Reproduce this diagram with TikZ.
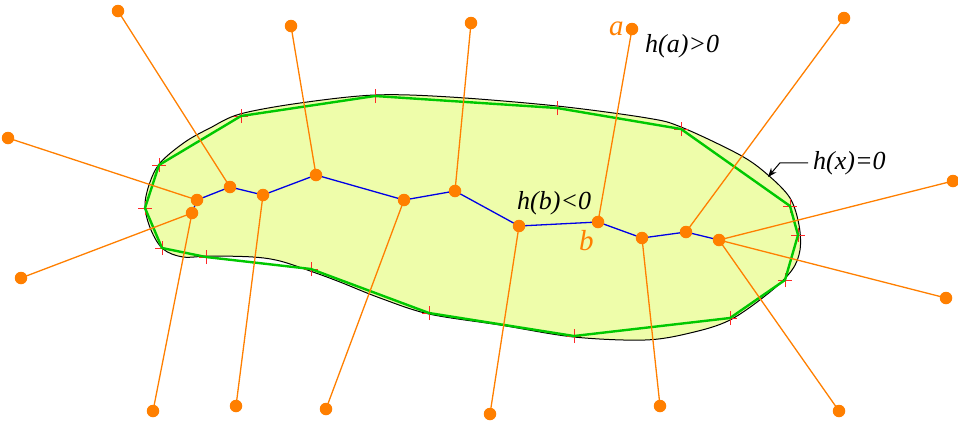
\documentclass[tikz,border=0pt]{standalone}
\usepackage{fontspec}
\setmainfont{Liberation Serif}
\usetikzlibrary{arrows.meta}
\definecolor{fillc}{RGB}{238,253,170}
\definecolor{grn}{RGB}{0,200,0}
\definecolor{org}{RGB}{255,127,0}
\definecolor{blu}{RGB}{0,0,230}
\definecolor{crossc}{RGB}{255,40,40}
\begin{document}
\begin{tikzpicture}[x=1pt,y=-1pt,
  dot/.style={circle,fill=org,inner sep=0pt,minimum size=12.5pt},
  spoke/.style={draw=org,line width=1.3pt},
  chain/.style={draw=blu,line width=1.3pt,line join=round},
  hull/.style={draw=grn,line width=2.4pt,line join=round},
  boundary/.style={draw=black,line width=1pt,fill=fillc},
  tick/.style={draw=crossc,line width=1pt},
  lbl/.style={inner sep=0pt,font=\fontsize{26}{30}\selectfont\itshape},
  olbl/.style={inner sep=0pt,text=org,font=\fontsize{29}{32}\selectfont\itshape}]
\useasboundingbox (0,0) rectangle (958,424);
% smooth boundary h(x)=0
\path[boundary] plot[smooth cycle,tension=0.55] coordinates {
 (145,207) (149,185) (160,163) (185,142) (210,128) (240,114) (300,103) (375,95)
 (450,97) (557,106) (647,118) (681,127) (740,155) (768,175) (790,198) (799,225)
 (800,250) (792,270) (770,292) (730,320) (690,333) (645,340) (574,337) (500,325)
 (429,314) (380,298) (340,282) (313,272) (280,261) (253,257) (210,256) (183,257)
 (163,249) (151,230)};
% polygon vertices
\coordinate (p1) at (159,165);
\coordinate (p2) at (241,116);
\coordinate (p3) at (375,96);
\coordinate (p4) at (557,108);
\coordinate (p5) at (681,129);
\coordinate (p6) at (790,206);
\coordinate (p7) at (798,235);
\coordinate (p8) at (785,280);
\coordinate (p9) at (730,318);
\coordinate (p10) at (574,336);
\coordinate (p11) at (429,313);
\coordinate (p12) at (311,269);
\coordinate (p13) at (206,257);
\coordinate (p14) at (162,248);
\coordinate (p15) at (145,208);
% inner points
\coordinate (i0) at (192,213);
\coordinate (i1) at (197,200);
\coordinate (i2) at (230,187);
\coordinate (i3) at (263,195);
\coordinate (i4) at (316,175);
\coordinate (i5) at (404,200);
\coordinate (i6) at (455,191);
\coordinate (i7) at (519,226);
\coordinate (i8) at (598,222);
\coordinate (i9) at (642,238);
\coordinate (i10) at (686,232);
\coordinate (i11) at (719,240);
% outer points
\coordinate (o1) at (118,11);
\coordinate (o2) at (291,26);
\coordinate (o3) at (471,23);
\coordinate (o4) at (632,29);
\coordinate (o5) at (844,18);
\coordinate (o6) at (953,181);
\coordinate (o7) at (946,298);
\coordinate (o8) at (839,411);
\coordinate (o9) at (660,406);
\coordinate (o10) at (490,414);
\coordinate (o11) at (326,409);
\coordinate (o12) at (236,406);
\coordinate (o13) at (153,411);
\coordinate (o14) at (21,278);
\coordinate (o15) at (8,138);
% crosses
\foreach \k in {1,...,15}
  \draw[tick] ([xshift=-7pt]p\k) -- ([xshift=7pt]p\k) ([yshift=-7pt]p\k) -- ([yshift=7pt]p\k);
% polygon
\draw[hull] (p1) -- (p2) -- (p3) -- (p4) -- (p5) -- (p6) -- (p7) -- (p8) -- (p9)
  -- (p10) -- (p11) -- (p12) -- (p13) -- (p14) -- (p15) -- cycle;
% spokes
\draw[spoke] (o1) -- (i2);
\draw[spoke] (o2) -- (i4);
\draw[spoke] (o3) -- (i6);
\draw[spoke] (o4) -- (i8);
\draw[spoke] (o5) -- (i10);
\draw[spoke] (o6) -- (i11);
\draw[spoke] (o7) -- (i11);
\draw[spoke] (o8) -- (i11);
\draw[spoke] (o9) -- (i9);
\draw[spoke] (o10) -- (i7);
\draw[spoke] (o11) -- (i5);
\draw[spoke] (o12) -- (i3);
\draw[spoke] (o13) -- (i0);
\draw[spoke] (o14) -- (i0);
\draw[spoke] (o15) -- (i1);
% chain
\draw[chain] (i0) -- (i1) -- (i2) -- (i3) -- (i4) -- (i5) -- (i6) -- (i7) -- (i8)
  -- (i9) -- (i10) -- (i11);
% dots
\foreach \n in {i0,i1,i2,i3,i4,i5,i6,i7,i8,i9,i10,i11,o1,o2,o3,o4,o5,o6,o7,o8,o9,o10,o11,o12,o13,o14,o15}
  \node[dot] (d\n) at (\n) {};
% labels
\node[olbl,anchor=base west] (la) at (609,35) {a};
\node[olbl,anchor=base west] (lb) at (579,250) {b};
\node[lbl,anchor=base west] (ha) at (645,52) {h(a)>0};
\node[lbl,anchor=base west] (hb) at (517,209) {h(b)<0};
\node[lbl,anchor=base west] (hx) at (813,169) {h(x)=0};
\coordinate (hxtip) at (768,177);
\draw[line width=1pt,-{Stealth[length=9pt,width=7pt]}] ([xshift=-5pt]hx.west) -- ++(-28,0) -- (hxtip);
\end{tikzpicture}
\end{document}
